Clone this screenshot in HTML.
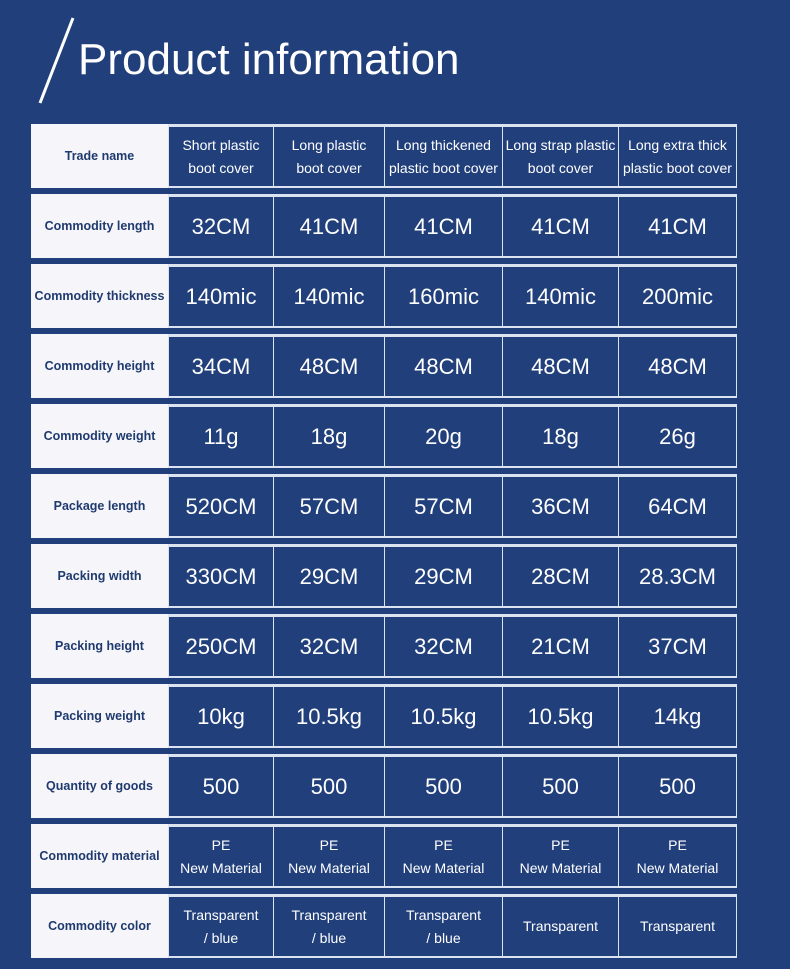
<!DOCTYPE html><html><head><style>
body{margin:0;width:790px;height:969px;background:#213f7b;position:relative;overflow:hidden;font-family:"Liberation Sans",sans-serif}
.t{position:absolute;left:78px;top:35px;color:#fff;font-size:44px}
.r{position:absolute;left:31px;height:64px;width:706px;display:flex}
.l{width:137px;background:#f5f5fa;color:#1f3a6e;font-size:12.5px;font-weight:bold;display:flex;align-items:center;justify-content:center;text-align:center}
.c{box-sizing:border-box;border-top:3px solid #dbe2f0;border-bottom:2px solid #dbe2f0;border-right:1.5px solid #dbe2f0;color:#fff;display:flex;align-items:center;justify-content:center;text-align:center;font-size:22px}
.s{font-size:14px;line-height:23px}
</style></head><body>
<svg style="position:absolute;left:0;top:0" width="100" height="110"><line x1="40" y1="103" x2="73" y2="18" stroke="#fff" stroke-width="3"/></svg>
<div class="t">Product information</div>
<div id="g"></div>
<script>
var rows=[["Trade name",["Short plastic<br>boot cover","Long plastic<br>boot cover","Long thickened<br>plastic boot cover","Long strap plastic<br>boot cover","Long extra thick<br>plastic boot cover"],1],
["Commodity length",["32CM","41CM","41CM","41CM","41CM"]],
["Commodity thickness",["140mic","140mic","160mic","140mic","200mic"]],
["Commodity height",["34CM","48CM","48CM","48CM","48CM"]],
["Commodity weight",["11g","18g","20g","18g","26g"]],
["Package length",["520CM","57CM","57CM","36CM","64CM"]],
["Packing width",["330CM","29CM","29CM","28CM","28.3CM"]],
["Packing height",["250CM","32CM","32CM","21CM","37CM"]],
["Packing weight",["10kg","10.5kg","10.5kg","10.5kg","14kg"]],
["Quantity of goods",["500","500","500","500","500"]],
["Commodity material",["PE<br>New Material","PE<br>New Material","PE<br>New Material","PE<br>New Material","PE<br>New Material"],1],
["Commodity color",["Transparent<br>/ blue","Transparent<br>/ blue","Transparent<br>/ blue","Transparent","Transparent"],1]];
var w=[106,111,118,116,118],h="";
rows.forEach(function(r,i){h+='<div class="r" style="top:'+(124+i*70)+'px"><div class="l">'+r[0]+'</div>';
r[1].forEach(function(v,j){h+='<div class="c'+(r[2]?' s':'')+'" style="width:'+w[j]+'px'+(j==0?';border-left:1.5px solid #dbe2f0':'')+'">'+v+'</div>'});h+='</div>'});
document.getElementById('g').innerHTML=h;
</script>
</body></html>
